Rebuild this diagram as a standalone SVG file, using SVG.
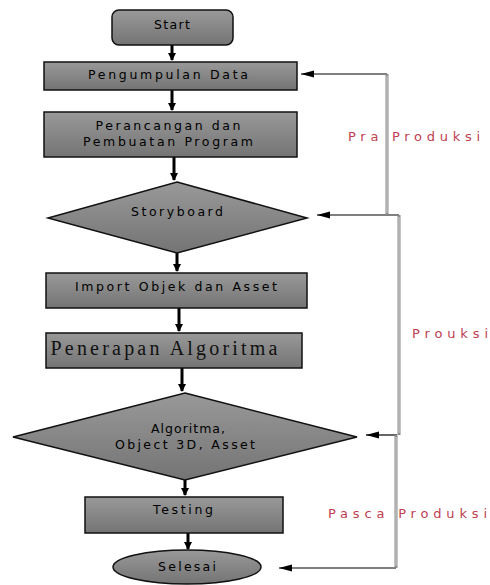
<svg xmlns="http://www.w3.org/2000/svg" width="490" height="585" viewBox="0 0 490 585">
<defs>
<linearGradient id="g" x1="0" y1="0" x2="0" y2="1">
<stop offset="0" stop-color="#999"/>
<stop offset="1" stop-color="#747474"/>
</linearGradient>
<marker id="dh" markerWidth="10" markerHeight="8" refX="7" refY="4" orient="auto" markerUnits="userSpaceOnUse">
<path d="M0,0 L8,4 L0,8 Z" fill="#000"/>
</marker>
<marker id="lh" markerWidth="14" markerHeight="8" refX="13" refY="4" orient="auto" markerUnits="userSpaceOnUse">
<path d="M0,0.5 L13,4 L0,7.5 Z" fill="#000"/>
</marker>
</defs>
<style>
.n{fill:url(#g);stroke:#111;stroke-width:1.5}
.t{font-family:"DejaVu Sans",sans-serif;font-size:12.5px;fill:#000;text-anchor:middle;dominant-baseline:middle}
.s{font-family:"Liberation Serif",serif;font-size:20px;fill:#111;text-anchor:middle;dominant-baseline:middle}
.r{font-family:"DejaVu Sans",sans-serif;font-size:13px;fill:#c0404f;dominant-baseline:middle}
.d{stroke:#000;stroke-width:3;fill:none;marker-end:url(#dh)}
.h{stroke:#000;stroke-width:1.2;fill:none;marker-end:url(#lh)}
.v{stroke:#8a8a8a;stroke-width:3;fill:none}
.vi{stroke:#d8d8d8;stroke-width:1;fill:none}
</style>
<rect width="490" height="585" fill="#fff"/>
<g id="connectors">
<path class="d" d="M172,45 V60"/>
<path class="d" d="M172,90 V110"/>
<path class="d" d="M174,157 V180"/>
<path class="d" d="M177,253 V271"/>
<path class="d" d="M179,308 V331"/>
<path class="d" d="M182,368 V391"/>
<path class="d" d="M185,480 V495"/>
<path class="d" d="M188,533 V549"/>
<path class="h" d="M387,74 H301"/>
<path class="h" d="M399,215 H317"/>
<path class="h" d="M397,435 H366"/>
<path class="h" d="M396,568 H279"/>
<path class="v" d="M387,74 V215"/>
<path class="vi" d="M387,76 V213"/>
<path class="v" d="M399,215 V435"/>
<path class="vi" d="M399,217 V433"/>
<path class="v" d="M396,435 V568"/>
<path class="vi" d="M396,437 V566"/>
</g>
<g id="start">
<rect class="n" x="112" y="10" width="121" height="35" rx="7"/>
<text class="t" x="172" y="25" textLength="36" lengthAdjust="spacing">Start</text>
</g>
<g id="pengumpulan">
<rect class="n" x="44" y="62" width="253" height="28"/>
<text class="t" x="168" y="75" textLength="160" lengthAdjust="spacing">Pengumpulan Data</text>
</g>
<g id="perancangan">
<rect class="n" x="44" y="112" width="253" height="45"/>
<text class="t" x="168" y="126" textLength="145" lengthAdjust="spacing">Perancangan dan</text>
<text class="t" x="168" y="142" textLength="170" lengthAdjust="spacing">Pembuatan Program</text>
</g>
<g id="storyboard">
<polygon class="n" points="177,182 307,218 177,253 48,218"/>
<text class="t" x="177" y="212" textLength="92" lengthAdjust="spacing">Storyboard</text>
</g>
<g id="import">
<rect class="n" x="46" y="273" width="261" height="35"/>
<text class="t" x="176" y="287" textLength="202" lengthAdjust="spacing">Import Objek dan Asset</text>
</g>
<g id="penerapan">
<rect class="n" x="46" y="333" width="256" height="35"/>
<text class="s" x="164" y="350" textLength="227" lengthAdjust="spacing">Penerapan Algoritma</text>
</g>
<g id="algoritma">
<polygon class="n" points="185,393 357,437 185,480 13,437"/>
<text class="t" x="188" y="429" textLength="74" lengthAdjust="spacing">Algoritma,</text>
<text class="t" x="185" y="445" textLength="140" lengthAdjust="spacing">Object 3D, Asset</text>
</g>
<g id="testing">
<rect class="n" x="85" y="497" width="198" height="36"/>
<text class="t" x="183" y="510" textLength="60" lengthAdjust="spacing">Testing</text>
</g>
<g id="selesai">
<ellipse class="n" cx="187" cy="567" rx="74" ry="17"/>
<text class="t" x="187" y="567" textLength="58" lengthAdjust="spacing">Selesai</text>
</g>
<g id="labels">
<text class="r" x="348" y="137" textLength="132" lengthAdjust="spacing">Pra Produksi</text>
<text class="r" x="412" y="334" textLength="76" lengthAdjust="spacing">Prouksi</text>
<text class="r" x="328" y="514" textLength="159" lengthAdjust="spacing">Pasca Produksi</text>
</g>
</svg>
